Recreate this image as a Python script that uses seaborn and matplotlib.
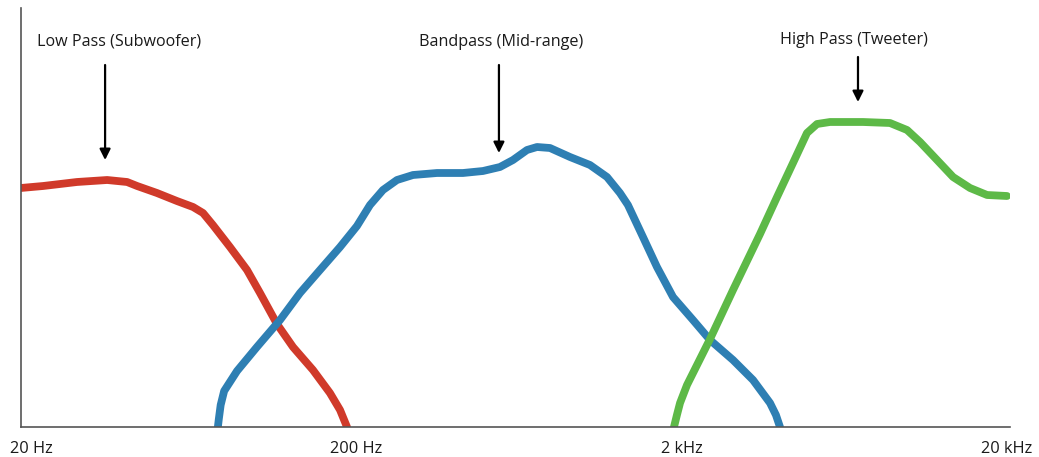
import matplotlib
matplotlib.use("Agg")
import matplotlib.pyplot as plt
import seaborn as sns
import pandas as pd

# ---- data (frequency in Hz, relative response level) ----
low_freq = [18.6, 21.8, 27.7, 34.3, 39.5, 42.4, 48.8, 56.2, 63.0, 67.6, 72.5,
            81.8, 92.3, 101.2, 114.1, 127.8, 147.2, 166.0, 178.3, 187.3]
low_level = [239, 241, 245, 247, 245, 241, 234, 226, 220, 214, 202,
             180, 157, 134, 103, 80, 57, 34, 17, 0]

band_freq = [75.1, 75.6, 76.6, 78.5, 86.0, 99.0, 116.6, 134.3, 154.7, 178.3, 201.0,
             220.4, 241.6, 266.8, 298.8, 354.2, 425.6, 490.4, 553.0, 606.4, 669.6,
             718.8, 788.0, 907.8, 1045.8, 1179.6, 1293, 1368, 1521.6, 1680, 1882,
             2168, 2446, 2878, 3316, 3740, 3900, 4013]
band_level = [0, 8, 22, 36, 56, 80, 107, 134, 157, 180, 201,
              222, 237, 247, 252, 254, 254, 256, 260, 267, 277,
              280, 279, 270, 262, 250, 234, 222, 190, 160, 130,
              107, 87, 67, 47, 24, 12, 0]

high_freq = [1895, 1935, 1978, 2078, 2446, 2878, 3484, 3930, 4400, 4858, 5216, 5718,
             7224, 8742, 9864, 10814, 12196, 13660, 15404, 17378, 20014]
high_level = [0, 12, 24, 42, 88, 137, 193, 230, 264, 294, 303, 305,
              305, 304, 297, 285, 267, 250, 239, 232, 231]

bands = ["Low Pass (Subwoofer)", "Bandpass (Mid-range)", "High Pass (Tweeter)"]
band_colors = ["#d03a2a", "#2e7fb3", "#5db947"]
arrow_freq = [33.8, 549, 6970]
arrow_tip = [267, 274, 325]
arrow_tail = [362, 362, 370]
label_freq = [37.3, 557, 6776]
label_level = [385, 385, 387]

tick_freqs = [20, 200, 2000, 20000]
tick_labels = ["20 Hz", "200 Hz", "2 kHz", "20 kHz"]

# ---- build long table ----
frames = []
for name, f, l in zip(bands, [low_freq, band_freq, high_freq],
                      [low_level, band_level, high_level]):
    frames.append(pd.DataFrame({"freq": f, "level": l, "band": name}))
df = pd.concat(frames, ignore_index=True)

sns.set_style("white")
plt.rcParams["font.family"] = ["Open Sans", "DejaVu Sans"]

fig = plt.figure(figsize=(10.39, 4.57), dpi=100)
ax = fig.add_axes([21 / 1039, 30 / 457, 989 / 1039, 419 / 457])

sns.lineplot(data=df, x="freq", y="level", hue="band", hue_order=bands,
             palette=dict(zip(bands, band_colors)), linewidth=5.6,
             sort=False, estimator=None, legend=False, ax=ax)
for line in ax.get_lines():
    line.set_solid_capstyle("round")
    line.set_solid_joinstyle("round")

ax.set_xscale("log")
ax.set_xlim(18.64, 20441)
ax.set_ylim(0, 419)
ax.set_xticks(tick_freqs)
ax.set_xticklabels(tick_labels)
ax.minorticks_off()
ax.set_yticks([])
ax.tick_params(axis="x", length=0, pad=10, labelsize=11.8, colors="#1a1a1a")
ax.set_xlabel("")
ax.set_ylabel("")
for side in ["top", "right"]:
    ax.spines[side].set_visible(False)
for side in ["left", "bottom"]:
    ax.spines[side].set_color("#555555")
    ax.spines[side].set_linewidth(1.2)

for name, fx, tip, tail, lx, ly in zip(bands, arrow_freq, arrow_tip, arrow_tail,
                                       label_freq, label_level):
    ax.annotate("", xy=(fx, tip), xytext=(fx, tail),
                arrowprops=dict(arrowstyle="-|>", color="black", lw=1.6,
                                mutation_scale=16, shrinkA=0, shrinkB=0),
                annotation_clip=False)
    ax.text(lx, ly, name, ha="center", va="center", fontsize=11.6, color="#1a1a1a")

fig.savefig("out.png", dpi=100)
